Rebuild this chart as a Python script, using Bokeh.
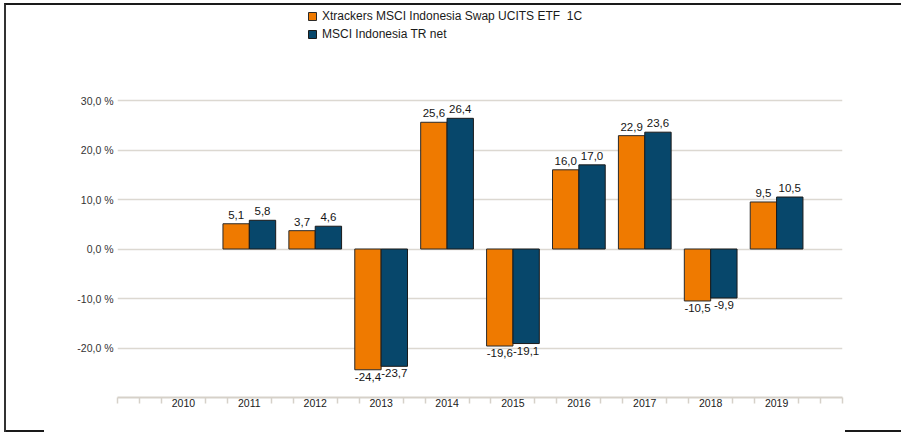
from bokeh.plotting import figure
from bokeh.models import (ColumnDataSource, FixedTicker, Legend, LegendItem,
                          CustomJSTickFormatter, Range1d)
from bokeh.transform import dodge
from bokeh.embed import file_html
from bokeh.resources import INLINE
from bokeh.core.properties import value

# ---- data ----
years = [2010, 2011, 2012, 2013, 2014, 2015, 2016, 2017, 2018, 2019]
etf = [None, 5.1, 3.7, -24.4, 25.6, -19.6, 16.0, 22.9, -10.5, 9.5]
index = [None, 5.8, 4.6, -23.7, 26.4, -19.1, 17.0, 23.6, -9.9, 10.5]
y_ticks = [-20, -10, 0, 10, 20, 30]
series_names = ["Xtrackers MSCI Indonesia Swap UCITS ETF  1C", "MSCI Indonesia TR net"]
ORANGE = "#EF7A00"
BLUE = "#07476B"

FONT = "Liberation Sans"

# frame geometry (pixels)
FRAME_W = 725
FRAME_H = 392
PX_PER_UNIT = 297 / 60.0          # -30 .. 30 spans 297 px
Y_TOP = -30 + FRAME_H / PX_PER_UNIT  # extra headroom holds the legend


def fmt(v):
    return ("%.1f" % v).replace(".", ",")


def build(vals):
    ys = [y for y, v in zip(years, vals) if v is not None]
    vs = [v for v in vals if v is not None]
    return ColumnDataSource(dict(year=ys, val=vs, lbl=[fmt(v) for v in vs]))


src_etf = build(etf)
src_idx = build(index)

p = figure(frame_width=FRAME_W, frame_height=FRAME_H, output_backend="svg",
           toolbar_location=None,
           x_range=Range1d(2009, 2020), y_range=Range1d(-30, Y_TOP),
           min_border_left=111, min_border_top=0, min_border_right=59,
           min_border_bottom=35)
p.styles = {"position": "absolute", "left": "4px", "top": "3px",
            "border-top": "2px solid #1a1a1a", "border-left": "2px solid #333333",
            "background": "linear-gradient(#1a1a1a,#1a1a1a) left bottom / 38px 2px no-repeat, "
                          "linear-gradient(#1a1a1a,#1a1a1a) right bottom / 56px 2px no-repeat"}
p.border_fill_color = None
p.background_fill_color = "white"
p.outline_line_color = None

# bars
r1 = p.vbar(x=dodge("year", -0.2), top="val", width=0.4, source=src_etf,
            fill_color=ORANGE, line_color="#2a2a2a", line_width=1)
r2 = p.vbar(x=dodge("year", 0.2), top="val", width=0.4, source=src_idx,
            fill_color=BLUE, line_color="#1a1a1a", line_width=1)

# value labels
for src, off in ((src_etf, -0.2), (src_idx, 0.2)):
    d = src.data
    pos = ColumnDataSource({k: [v for v, t in zip(d[k], d["val"]) if t >= 0] for k in d})
    neg = ColumnDataSource({k: [v for v, t in zip(d[k], d["val"]) if t < 0] for k in d})
    p.text(x=dodge("year", off), y="val", text="lbl", source=pos,
           text_font=value(FONT), text_font_size="11.5px", text_color="#151515",
           text_align="center", text_baseline="bottom", y_offset=-5)
    p.text(x=dodge("year", off), y="val", text="lbl", source=neg,
           text_font=value(FONT), text_font_size="11.5px", text_color="#151515",
           text_align="center", text_baseline="top", y_offset=3)

# y axis
p.yaxis.ticker = FixedTicker(ticks=y_ticks)
p.yaxis.formatter = CustomJSTickFormatter(code="return tick.toFixed(1).replace('.', ',') + ' %';")
p.yaxis.axis_line_color = None
p.yaxis.major_tick_line_color = None
p.yaxis.major_tick_out = 0
p.yaxis.major_tick_in = 0
p.yaxis.minor_tick_line_color = None
p.yaxis.major_label_standoff = 4
p.yaxis.major_label_text_font = FONT
p.yaxis.major_label_text_font_size = "10.5px"
p.yaxis.major_label_text_color = "#333333"
p.ygrid.ticker = FixedTicker(ticks=y_ticks)
p.ygrid.grid_line_color = "#dcd8d1"
p.ygrid.grid_line_width = 1.6

# x axis
minor = [2009 + k / 3 for k in range(34) if k % 3 != 0 or k in (0, 33)]
p.xaxis.ticker = FixedTicker(ticks=years, minor_ticks=minor)
p.xaxis.formatter = CustomJSTickFormatter(code="return tick.toFixed(0);")
p.xaxis.axis_line_color = "#d6d1c9"
p.xaxis.axis_line_width = 2
p.xaxis.major_tick_line_color = None
p.xaxis.major_tick_out = 0
p.xaxis.major_tick_in = 0
p.xaxis.minor_tick_line_color = "#d6d1c9"
p.xaxis.minor_tick_line_width = 1.5
p.xaxis.minor_tick_out = 6
p.xaxis.minor_tick_in = 0
p.xaxis.major_label_standoff = -5
p.xaxis.major_label_text_font = FONT
p.xaxis.major_label_text_font_size = "10.5px"
p.xaxis.major_label_text_color = "#1a1a1a"
p.xgrid.grid_line_color = None

legend = Legend(items=[LegendItem(label=series_names[0], renderers=[r1]),
                       LegendItem(label=series_names[1], renderers=[r2])],
                location=(190, 356), padding=0, margin=0, spacing=4,
                glyph_width=10, glyph_height=10, label_height=12, label_standoff=5,
                label_text_font=FONT, label_text_font_size="12px",
                label_text_color="#1a1a1a", border_line_color=None,
                background_fill_alpha=0)
p.add_layout(legend, "center")

open("out.html", "w").write(file_html(p, INLINE))
